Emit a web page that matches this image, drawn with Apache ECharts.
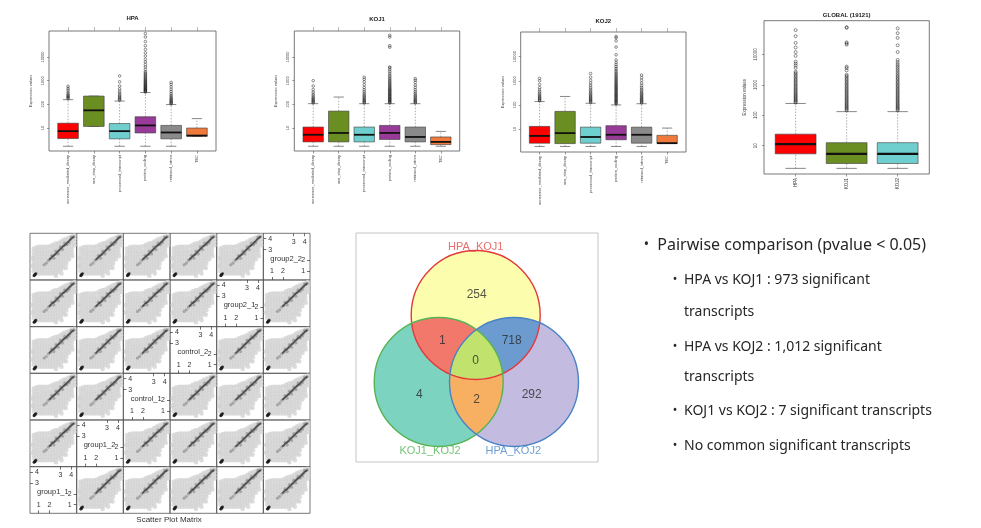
<!DOCTYPE html>
<html><head><meta charset="utf-8">
<script src="https://cdn.jsdelivr.net/npm/echarts@6/dist/echarts.min.js"></script>
<style>html,body{margin:0;padding:0;background:#fff}#c{width:981px;height:528px}</style>
</head><body><div id="c"></div>
<script>
// ================= DATA =================
const biotypes = ['nonsense_mediated_decay','non_stop_decay','processed_transcript','protein_coding','retained_intron','TEC'];
const globalGroups = ['HPA','KOJ1','KOJ2'];
const biotypeColors = ['#ff0000','#6b8e23','#6fcfcf','#983a98','#8a8a8a','#f07a3c'];
const globalColors = ['#ff0000','#6b8e23','#6fcfcf'];
const yTickValues = [10,100,1000,10000];

// box stats: [lower whisker, Q1, median, Q3, upper whisker] (expression values)
const hpaStats = [[1.7,3.6,7.4,16,158],[11.7,11.7,56,224,224],[1.7,3.5,7.4,15.5,138],[1.7,6.2,12.9,30,316],[1.7,3.5,6.5,12.9,98],[4.5,4.5,4.8,10,25]];
const hpaOutliers = [
  [175,190,205,225,250,280,330,400,480,580],
  [],
  [150,165,180,200,225,255,300,360,450,600,900,1600],
  [330,350,370,390,410,435,460,490,520,550,590,630,670,720,770,830,900,970,1050,1150,1250,1380,1520,1700,1900,2150,2400,3000,3800,4800,6200,8000,11000,15000,21000,30000,45000,70000,98000],
  [105,112,120,130,142,155,170,190,215,245,290,350,430,550,700,850],
  []
];
const koj1Stats = [[1.7,2.6,5.2,11,107],[1.7,2.6,6.2,52,204],[1.7,2.6,5.2,11,107],[1.7,3.3,6.2,12.9,107],[1.7,2.6,4.2,11,107],[1.7,2.0,2.6,4.2,7.2]];
const koj1Outliers = [
  [115,125,135,148,162,180,200,230,270,330,420,600,1000],
  [],
  [115,125,135,148,162,180,200,225,255,295,350,420,520,680,900,1150,1400],
  [115,122,130,140,150,160,172,185,200,215,232,250,270,292,315,340,370,400,435,475,520,570,630,700,780,870,980,1100,1250,1450,1700,2000,2400,2900,3500,3800,26000,30000,70000,83000],
  [115,125,135,148,162,180,200,225,255,295,350,420,520,650,850,1050,1230],
  []
];
const koj2Stats = [[1.9,2.6,5.2,12.9,138],[1.9,2.5,6.8,54,224],[1.9,2.6,4.7,12,117],[1.9,3.6,5.8,13.8,100],[1.9,2.6,5.8,12,112],[2.6,2.6,2.6,5.5,11]];
const koj2Outliers = [
  [148,160,175,192,212,235,265,300,350,420,520,700,1000,1260],
  [],
  [125,135,147,160,175,192,212,235,262,295,335,385,450,540,660,820,1050,1400,2000],
  [108,116,125,135,146,158,171,185,200,217,235,255,277,300,326,355,386,420,458,500,545,595,650,710,780,860,950,1050,1170,1300,1450,1630,1850,2100,2400,2800,3300,3900,4700,5700,7200,12000,25000,45000,60000,68000],
  [120,130,141,153,167,182,200,220,243,270,300,340,390,450,530,640,800,1050,1350,1740],
  []
];
const globalStats = [[1.8,5.4,11.2,24,245],[1.8,2.6,5.4,12.6,132],[1.8,2.6,5.4,12.6,132]];
const globalOutliers = [
  [260,280,300,325,350,380,410,445,485,530,580,635,700,770,850,940,1040,1150,1280,1420,1580,1760,1960,2200,2450,2700,3600,4300,5000,5800,9000,12000,17000,24000,40000,63000],
  [145,157,170,185,200,218,238,260,285,312,342,375,412,453,500,550,605,670,740,820,910,1010,1120,1250,1400,1560,1750,1950,2140,3000,3600,4000,21000,23000,25000,75000,79000],
  [145,157,170,185,200,218,238,260,285,312,342,375,412,453,500,550,605,670,740,820,910,1010,1120,1250,1400,1560,1750,1950,2200,2500,2850,3250,3700,4200,4800,5600,6600,12000,20000,35000,50000,72000]
];

// scatter plot matrix (log10 expression, shared shape per panel)
const sampleNames = ['group1_1','group1_2','control_1','control_2','group2_1','group2_2'];
const cloudPts = [
[0.55,1.0],[0.55,1.3],[0.55,1.6],[0.55,1.9],[0.55,2.2],[0.55,2.5],[0.55,2.8],[0.55,3.1],
[0.8,0.8],[0.8,1.1],[0.8,1.4],[0.8,1.7],[0.8,2.0],[0.8,2.3],[0.8,2.6],[0.8,2.9],[0.8,3.2],
[1.05,0.8],[1.05,1.1],[1.05,1.4],[1.05,1.7],[1.05,2.0],[1.05,2.3],[1.05,2.6],[1.05,2.9],[1.05,3.25],
[1.3,0.8],[1.3,1.1],[1.3,1.4],[1.3,1.7],[1.3,2.0],[1.3,2.3],[1.3,2.6],[1.3,2.9],[1.3,3.25],
[1.55,0.8],[1.55,1.1],[1.55,1.4],[1.55,1.7],[1.55,2.0],[1.55,2.3],[1.55,2.6],[1.55,2.9],[1.55,3.25],
[1.8,0.8],[1.8,1.1],[1.8,1.4],[1.8,1.7],[1.8,2.0],[1.8,2.3],[1.8,2.6],[1.8,2.9],[1.8,3.25],
[2.05,0.8],[2.05,1.1],[2.05,1.4],[2.05,1.7],[2.05,2.0],[2.05,2.3],[2.05,2.6],[2.05,2.9],[2.05,3.3],
[2.3,0.8],[2.3,1.1],[2.3,1.4],[2.3,1.7],[2.3,2.0],[2.3,2.3],[2.3,2.6],[2.3,2.9],[2.3,3.2],[2.3,3.45],
[2.55,0.85],[2.55,1.15],[2.55,1.45],[2.55,1.75],[2.55,2.05],[2.55,2.35],[2.55,2.65],[2.55,2.95],[2.55,3.25],[2.55,3.55],
[2.8,0.95],[2.8,1.25],[2.8,1.55],[2.8,1.85],[2.8,2.15],[2.8,2.45],[2.8,2.75],[2.8,3.05],[2.8,3.35],[2.8,3.6],
[3.05,1.1],[3.05,1.4],[3.05,1.7],[3.05,2.0],[3.05,2.3],[3.05,2.6],[3.05,2.9],[3.05,3.2],[3.05,3.5],[3.05,3.75],
[3.3,1.35],[3.3,1.65],[3.3,1.95],[3.3,2.25],[3.3,2.55],[3.3,2.85],[3.3,3.15],[3.3,3.45],[3.3,3.75],[3.3,3.9],
[3.55,1.7],[3.55,2.0],[3.55,2.3],[3.55,2.6],[3.55,2.9],[3.55,3.2],[3.55,3.5],[3.55,3.8],[3.55,4.0],
[3.8,2.1],[3.8,2.4],[3.8,2.7],[3.8,3.0],[3.8,3.3],[3.8,3.6],[3.8,3.9],[3.8,4.1],
[4.05,2.7],[4.05,3.0],[4.05,3.3],[4.05,3.6],[4.05,3.9],[4.05,4.2],
[4.3,3.4],[4.3,3.7],[4.3,4.0],[4.3,4.3],
[2.6,0.6],[3.1,0.8],[3.5,1.3],[0.45,2.2],[0.45,1.5],[4.1,2.4]
];
const bandPts = [[1.5,1.6],[1.7,1.75],[1.9,2.0],[2.1,2.15],[2.3,2.4],[2.5,2.55],[2.7,2.75],[2.9,2.95],[3.1,3.15],[3.3,3.35],[3.5,3.5],[3.7,3.7],[3.9,3.9],[4.1,4.1],[4.25,4.2],
[2.2,2.45],[2.6,2.85],[3.0,3.25],[3.4,3.6],[2.4,2.2],[2.8,2.6],[3.2,3.0],[3.6,3.45],[3.8,3.65],[4.0,4.15]];
const corePts = [[2.0,2.1],[2.1,2.2],[2.2,2.3],[2.3,2.38],[2.4,2.45],[2.5,2.55],[2.6,2.65],[2.7,2.76],[2.8,2.85],[2.9,2.95],[3.0,3.05],[3.1,3.15],[3.2,3.25],[3.3,3.33],[3.4,3.42],[3.5,3.5],[3.6,3.6],[3.7,3.7],[3.8,3.8],[3.9,3.9],[4.0,4.0],[4.1,4.08],[4.2,4.15]];
const clusterPts = [[0.55,0.6],[0.62,0.68],[0.7,0.75],[0.6,0.58],[0.68,0.66],[0.75,0.8],[0.65,0.72]];

// Venn
const vennSets = ['HPA_KOJ1','KOJ1_KOJ2','HPA_KOJ2'];
const vennCounts = [254, 1, 718, 0, 4, 2, 292]; // A only, A&B, A&C, A&B&C, B only, B&C, C only

// Text
const mainBullet = 'Pairwise comparison (pvalue < 0.05)';
const subLines = [
  {t:'HPA vs KOJ1 : 973 significant', b:true},
  {t:'transcripts', b:false},
  {t:'HPA vs KOJ2 : 1,012 significant', b:true},
  {t:'transcripts', b:false},
  {t:'KOJ1 vs KOJ2 : 7 significant transcripts', b:true},
  {t:'No common significant transcripts', b:true}
];

// ================= BUILD =================
const lg = v => Math.log10(v);
const grid=[], xAxis=[], yAxis=[], series=[], gfx=[];
const FF = 'Liberation Sans, Arial, sans-serif';

function makeBoxRenderer(colors, medW) {
  return function(params, api) {
    const x = api.value(0);
    const v = [1,2,3,4,5].map(k => api.value(k));
    const L = api.coord([x-0.4, v[2]])[0], R = api.coord([x+0.4, v[2]])[0];
    const cL = api.coord([x-0.2, v[2]])[0], cR = api.coord([x+0.2, v[2]])[0];
    const cx = api.coord([x, v[2]])[0];
    const y = v.map(val => api.coord([x, val])[1]);
    const ws = {stroke:'#777', lineWidth:0.6, lineDash:[1.5,1.5]};
    const cs = {stroke:'#555', lineWidth:0.7};
    return {type:'group', children:[
      {type:'line', shape:{x1:cx,y1:y[0],x2:cx,y2:y[1]}, style:ws},
      {type:'line', shape:{x1:cx,y1:y[3],x2:cx,y2:y[4]}, style:ws},
      {type:'line', shape:{x1:cL,y1:y[0],x2:cR,y2:y[0]}, style:cs},
      {type:'line', shape:{x1:cL,y1:y[4],x2:cR,y2:y[4]}, style:cs},
      {type:'rect', shape:{x:L,y:y[3],width:R-L,height:y[1]-y[3]}, style:{fill:colors[params.dataIndex], stroke:'#3a3a3a', lineWidth:0.6}},
      {type:'line', shape:{x1:L,y1:y[2],x2:R,y2:y[2]}, style:{stroke:'#111', lineWidth:medW}}
    ]};
  };
}

function addBoxChart(cfg) {
  const gi = grid.length;
  grid.push({left:cfg.left, top:cfg.top, width:cfg.width, height:cfg.height, show:true, borderColor:'#555', borderWidth:0.8, backgroundColor:'transparent'});
  const n = cfg.cats.length;
  const ticks = cfg.cats.map((_, i) => i+1);
  const xmin = 0.5-0.04*n, xmax = n+0.5+0.04*n;
  const xi = xAxis.length;
  xAxis.push({type:'value', gridIndex:gi, min:xmin, max:xmax, splitLine:{show:false}, axisLine:{show:false},
    axisTick:{customValues:ticks, length:2.5, lineStyle:{color:'#555', width:0.6}},
    axisLabel:{customValues:ticks, formatter:v => cfg.cats[Math.round(v)-1], rotate:90, fontSize:cfg.xFont, color:'#444', margin:cfg.xMargin, fontFamily:FF}});
  if (cfg.topTicks) {
    xAxis.push({type:'value', gridIndex:gi, position:'top', min:xmin, max:xmax, splitLine:{show:false}, axisLine:{show:false},
      axisTick:{customValues:ticks, length:4, lineStyle:{color:'#888', width:0.6}}, axisLabel:{show:false}});
  }
  const yi = yAxis.length;
  yAxis.push({type:'value', gridIndex:gi, min:cfg.ymin, max:cfg.ymax, splitLine:{show:false}, axisLine:{show:false},
    axisTick:{customValues:yTickValues.map(lg), length:2, lineStyle:{color:'#555', width:0.6}},
    axisLabel:{customValues:yTickValues.map(lg), formatter:v => String(Math.round(Math.pow(10, v))), rotate:90, fontSize:cfg.yFont, color:'#444', margin:cfg.yMargin, fontFamily:FF},
    name:'Expression values', nameLocation:'middle', nameGap:cfg.nameGap, nameRotate:90, nameTextStyle:{fontSize:cfg.yFont, color:'#444', fontFamily:FF}});
  series.push({type:'custom', xAxisIndex:xi, yAxisIndex:yi, silent:true, clip:false,
    data: cfg.stats.map((s, i) => [i+1].concat(s.map(lg))),
    encode:{x:0, y:[1,2,3,4,5]},
    renderItem: makeBoxRenderer(cfg.colors, cfg.medW)});
  const out = [];
  cfg.outliers.forEach((arr, i) => arr.forEach(v => out.push([i+1, lg(v)])));
  series.push({type:'scatter', xAxisIndex:xi, yAxisIndex:yi, silent:true, data:out, symbol:'circle', symbolSize:cfg.outSize,
    itemStyle:{color:'transparent', borderColor:'#1a1a1a', borderWidth:0.6}});
  gfx.push({type:'text', x:cfg.titleX, y:cfg.titleY, style:{text:cfg.title, fontSize:cfg.titleSize, fontWeight:'bold', fill:'#222', align:'center', verticalAlign:'middle', fontFamily:FF}});
}

addBoxChart({title:'HPA', titleX:132.5, titleY:18, titleSize:6, left:49, top:31, width:167, height:120, ymin:0.03, ymax:5.1,
  cats:biotypes, stats:hpaStats, outliers:hpaOutliers, colors:biotypeColors, xFont:4, yFont:4, xMargin:4, yMargin:4, nameGap:16, medW:1.8, outSize:2.6, topTicks:true});
addBoxChart({title:'KOJ1', titleX:377, titleY:19, titleSize:6, left:294.3, top:31, width:165.4, height:120, ymin:0.03, ymax:5.1,
  cats:biotypes, stats:koj1Stats, outliers:koj1Outliers, colors:biotypeColors, xFont:4, yFont:4, xMargin:4, yMargin:4, nameGap:16, medW:1.8, outSize:2.6, topTicks:true});
addBoxChart({title:'KOJ2', titleX:603.3, titleY:21, titleSize:6, left:520.7, top:32, width:165.3, height:120, ymin:0.05, ymax:5.02,
  cats:biotypes, stats:koj2Stats, outliers:koj2Outliers, colors:biotypeColors, xFont:4, yFont:4, xMargin:4, yMargin:4, nameGap:16, medW:1.8, outSize:2.6, topTicks:true});
addBoxChart({title:'GLOBAL (19121)', titleX:846.7, titleY:15, titleSize:6, left:764, top:20.7, width:165.3, height:153.3, ymin:0.07, ymax:5.11,
  cats:globalGroups, stats:globalStats, outliers:globalOutliers, colors:globalColors, xFont:4.5, yFont:4.5, xMargin:4, yMargin:6, nameGap:17, medW:2.2, outSize:3, topTicks:false});

// ---- scatter plot matrix ----
const SPM = {left:30, top:233.3, cell:46.67, min:0.2, max:4.5};
for (let i = 0; i < 6; i++) {
  for (let j = 0; j < 6; j++) {
    const gi = grid.length;
    const left = SPM.left + j*SPM.cell, top = SPM.top + i*SPM.cell;
    grid.push({left, top, width:SPM.cell, height:SPM.cell, show:true, borderColor:'#555', borderWidth:0.8, backgroundColor:'transparent'});
    const diag = (i + j === 5);
    const hid = {splitLine:{show:false}, axisLine:{show:false}, axisTick:{show:false}, axisLabel:{show:false}};
    if (!diag) {
      const xi = xAxis.length, yi = yAxis.length;
      xAxis.push(Object.assign({type:'value', gridIndex:gi, min:SPM.min, max:SPM.max}, hid));
      yAxis.push(Object.assign({type:'value', gridIndex:gi, min:SPM.min, max:SPM.max}, hid));
      const base = {type:'scatter', xAxisIndex:xi, yAxisIndex:yi, silent:true, symbol:'circle'};
      series.push(Object.assign({}, base, {data:cloudPts, symbolSize:4.6, itemStyle:{color:'#d3d3d3'}}));
      series.push(Object.assign({}, base, {data:bandPts, symbolSize:3.2, itemStyle:{color:'#9a9a9a'}}));
      series.push(Object.assign({}, base, {data:corePts, symbolSize:2, itemStyle:{color:'#3c3c3c'}}));
      series.push(Object.assign({}, base, {data:clusterPts, symbolSize:2.6, itemStyle:{color:'#1e1e1e'}}));
    } else {
      const lab = (vals) => ({
        splitLine:{show:false}, axisLine:{show:false},
        axisTick:{inside:true, length:3, customValues:vals, lineStyle:{color:'#333', width:0.7}},
        axisLabel:{inside:true, customValues:vals, fontSize:7, color:'#333', margin:5, fontFamily:FF, formatter:v => String(Math.round(v))}
      });
      xAxis.push(Object.assign({type:'value', gridIndex:gi, min:SPM.min, max:SPM.max, position:'bottom'}, lab([1,2])));
      xAxis.push(Object.assign({type:'value', gridIndex:gi, min:SPM.min, max:SPM.max, position:'top'}, lab([3,4])));
      yAxis.push(Object.assign({type:'value', gridIndex:gi, min:SPM.min, max:SPM.max, position:'left'}, lab([3,4])));
      yAxis.push(Object.assign({type:'value', gridIndex:gi, min:SPM.min, max:SPM.max, position:'right'}, lab([1,2])));
      gfx.push({type:'text', x:left + SPM.cell/2 - 0.5, y:top + SPM.cell/2 + 2, style:{text:sampleNames[j], fontSize:7.5, fill:'#333', align:'center', verticalAlign:'middle', fontFamily:FF}});
    }
  }
}
gfx.push({type:'text', x:169, y:520, style:{text:'Scatter Plot Matrix', fontSize:8, fill:'#333', align:'center', verticalAlign:'middle', fontFamily:FF}});

// ---- Venn ----
const vennLayout = {
  circles:[{cx:119.7, cy:82, r:64.5}, {cx:82.7, cy:149, r:64.5}, {cx:158, cy:149, r:64.5}],
  regions:[[0],[1],[2],[0,1],[0,2],[1,2],[0,1,2]],
  fills:['#fdfdae','#7bd3c0','#c4bce0','#f2786c','#6c9bd0','#f7b062','#c2e26e'],
  strokes:['#e23a3a','#56b456','#4a82c6'],
  countPos:[[120.7,62],[86.3,108],[155.7,108],[119.7,127.7],[63.3,161.3],[120.7,166.3],[175.7,161.3]],
  setPos:[[119.7,13.7],[74,217.7],[157.3,217.7]],
  setColors:['#e04a4a','#52b452','#4a86c8']
};
{
  const gi = grid.length;
  grid.push({left:356, top:233, width:242, height:229, show:true, borderColor:'#c4c4c4', borderWidth:1, backgroundColor:'transparent'});
  const xi = xAxis.length, yi = yAxis.length;
  const hid = {show:false};
  xAxis.push(Object.assign({type:'value', gridIndex:gi, min:0, max:242}, hid));
  yAxis.push(Object.assign({type:'value', gridIndex:gi, min:0, max:229, inverse:true}, hid));
  series.push({type:'custom', xAxisIndex:xi, yAxisIndex:yi, silent:true, clip:false, data:[[0,0]], encode:{x:0,y:1},
    renderItem:(params, api) => {
      const C = vennLayout.circles.map(c => { const p = api.coord([c.cx, c.cy]); return {x:p[0], y:p[1], r:api.size([c.r, 0])[0]}; });
      const poly = idx => {
        const pts = [];
        idx.forEach(k => {
          const c = C[k];
          for (let a = 0; a < 720; a++) {
            const t = a/720*2*Math.PI;
            const px = c.x + c.r*Math.cos(t), py = c.y + c.r*Math.sin(t);
            if (idx.every(m => m === k || Math.hypot(px - C[m].x, py - C[m].y) <= C[m].r)) pts.push([px, py]);
          }
        });
        let mx = 0, my = 0; pts.forEach(p => { mx += p[0]; my += p[1]; }); mx /= pts.length; my /= pts.length;
        pts.sort((a, b) => Math.atan2(a[1]-my, a[0]-mx) - Math.atan2(b[1]-my, b[0]-mx));
        return pts;
      };
      const children = [];
      vennLayout.regions.forEach((reg, ri) => {
        if (reg.length === 1) {
          const c = C[reg[0]];
          children.push({type:'circle', shape:{cx:c.x, cy:c.y, r:c.r}, style:{fill:vennLayout.fills[ri]}});
        } else {
          children.push({type:'polygon', shape:{points:poly(reg)}, style:{fill:vennLayout.fills[ri]}});
        }
      });
      C.forEach((c, k) => children.push({type:'circle', shape:{cx:c.x, cy:c.y, r:c.r}, style:{fill:'none', stroke:vennLayout.strokes[k], lineWidth:1.4}}));
      return {type:'group', children};
    }});
  series.push({type:'scatter', xAxisIndex:xi, yAxisIndex:yi, silent:true, symbolSize:0, z:5,
    data: vennCounts.map((v, i) => [vennLayout.countPos[i][0], vennLayout.countPos[i][1], v]),
    label:{show:true, position:'inside', formatter:p => String(p.value[2]), fontSize:12, color:'#2a2a2a', fontFamily:FF}});
  series.push({type:'scatter', xAxisIndex:xi, yAxisIndex:yi, silent:true, symbolSize:0, z:5,
    data: vennSets.map((s, i) => ({value:[vennLayout.setPos[i][0], vennLayout.setPos[i][1]], name:s,
      label:{color:vennLayout.setColors[i]}})),
    label:{show:true, position:'inside', formatter:p => p.name, fontSize:11, fontFamily:FF}});
}

// ---- bullet text ----
const TF = 'Noto Sans, sans-serif';
gfx.push({type:'text', x:646.5, y:245, style:{text:'•', fontSize:14, fill:'#262626', align:'center', verticalAlign:'middle', fontFamily:TF}});
gfx.push({type:'text', x:657.3, y:245, style:{text:mainBullet, fontSize:16, fill:'#262626', align:'left', verticalAlign:'middle', fontFamily:TF}});
const subY = [280, 312.3, 346.7, 377.3, 411, 445.7];
subLines.forEach((l, i) => {
  if (l.b) gfx.push({type:'text', x:675, y:subY[i], style:{text:'•', fontSize:12, fill:'#262626', align:'center', verticalAlign:'middle', fontFamily:TF}});
  gfx.push({type:'text', x:684, y:subY[i], style:{text:l.t, fontSize:14, fill:'#262626', align:'left', verticalAlign:'middle', fontFamily:TF}});
});

const chart = echarts.init(document.getElementById('c'), null, {renderer:'canvas', width:981, height:528});
chart.setOption({
  backgroundColor:'#ffffff',
  animation:false,
  grid, xAxis, yAxis, series,
  graphic:{elements:gfx.map(g => Object.assign({z:100}, g))}
});
</script>
</body></html>
